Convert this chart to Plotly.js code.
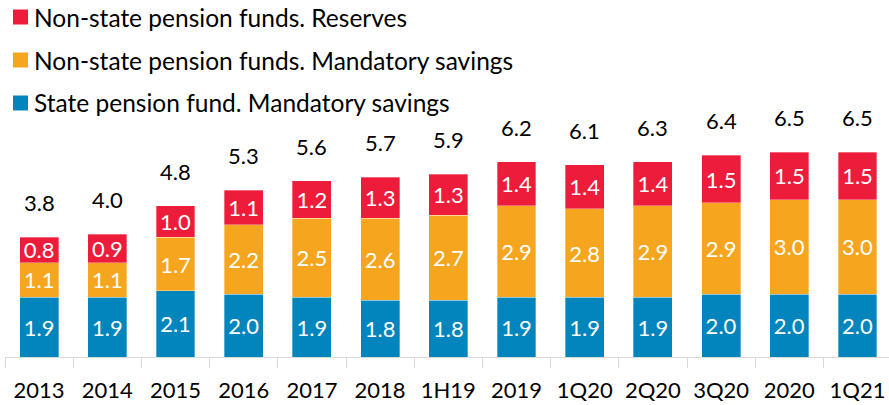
<!DOCTYPE html>
<html>
<head>
<meta charset="utf-8">
<script src="https://cdn.plot.ly/plotly-3.0.1.min.js"></script>
<style>
  html, body { margin: 0; padding: 0; background: #fff; }
  #chart { width: 889px; height: 405px; }
</style>
</head>
<body>
<div id="chart"></div>
<script>
// Pension savings by fund type (trillion roubles)
const periods = ['2013', '2014', '2015', '2016', '2017', '2018', '1H19', '2019', '1Q20', '2Q20', '3Q20', '2020', '1Q21'];
const stateMandatory = [1.9, 1.9, 2.1, 2.0, 1.9, 1.8, 1.8, 1.9, 1.9, 1.9, 2.0, 2.0, 2.0];
const npfMandatory   = [1.1, 1.1, 1.7, 2.2, 2.5, 2.6, 2.7, 2.9, 2.8, 2.9, 2.9, 3.0, 3.0];
const npfReserves    = [0.8, 0.9, 1.0, 1.1, 1.2, 1.3, 1.3, 1.4, 1.4, 1.4, 1.5, 1.5, 1.5];
const totals         = [3.8, 4.0, 4.8, 5.3, 5.6, 5.7, 5.9, 6.2, 6.1, 6.3, 6.4, 6.5, 6.5];

const seriesNames = [
  'State pension fund. Mandatory savings',
  'Non-state pension funds. Mandatory savings',
  'Non-state pension funds. Reserves'
];
const seriesValues = [stateMandatory, npfMandatory, npfReserves];
const seriesColors = ['#0284BC', '#F6A61E', '#ED1C3A'];

const FONT = 'Lato, "Open Sans", sans-serif';
const W = 889, H = 405;
const M = { l: 5, r: 0, t: 0, b: 48 };
const plotW = W - M.l - M.r, plotH = H - M.t - M.b;
const pxX = px => (px - M.l) / plotW;
const pxY = py => 1 - (py - M.t) / plotH;

const traces = seriesValues.map((vals, i) => ({
  type: 'bar',
  name: seriesNames[i],
  x: periods,
  y: vals,
  marker: { color: seriesColors[i], line: { color: 'rgba(255,255,255,0.55)', width: 0.6 } },
  text: vals.map(v => v.toFixed(1)),
  textposition: 'inside',
  insidetextanchor: 'middle',
  textangle: 0,
  constraintext: 'none',
  textfont: { family: FONT, size: 22, color: '#ffffff' },
  hoverinfo: 'x+y+name',
  showlegend: false
}));

// Totals above each stack (category index keeps year-like labels from being read as numbers)
const annotations = periods.map((p, i) => ({
  x: i,
  y: stateMandatory[i] + npfMandatory[i] + npfReserves[i],
  xref: 'x', yref: 'y',
  text: totals[i].toFixed(1),
  showarrow: false,
  yanchor: 'bottom',
  yshift: 19,
  font: { family: FONT, size: 22, color: '#000000' }
}));

// Legend drawn as swatches with labels, top series first
const shapes = [];
const legendRows = [17, 60, 103];
[2, 1, 0].forEach((s, row) => {
  const cy = legendRows[row];
  shapes.push({
    type: 'rect', xref: 'paper', yref: 'paper',
    x0: pxX(13), x1: pxX(28), y0: pxY(cy + 7.5), y1: pxY(cy - 7.5),
    fillcolor: seriesColors[s], line: { width: 0 }
  });
  annotations.push({
    xref: 'paper', yref: 'paper',
    x: pxX(32), y: pxY(cy),
    xanchor: 'left', yanchor: 'middle',
    text: seriesNames[s], showarrow: false,
    font: { family: FONT, size: 24.5, color: '#000000' }
  });
});

const layout = {
  width: W, height: H,
  margin: M,
  paper_bgcolor: '#ffffff',
  plot_bgcolor: '#ffffff',
  barmode: 'stack',
  bargap: 0.43,
  showlegend: false,
  font: { family: FONT, size: 22, color: '#000000' },
  xaxis: {
    type: 'category',
    range: [-0.5, -0.5 + plotW / 68.2],
    showline: true, linecolor: '#D9D9D9', linewidth: 1,
    ticks: 'outside', tickson: 'boundaries', ticklen: 10, tickcolor: '#D9D9D9',
    tickfont: { family: FONT, size: 22, color: '#000000' },
    ticklabelstandoff: 14,
    showgrid: false, zeroline: false, fixedrange: true
  },
  yaxis: {
    range: [0, plotH / 31.5],
    visible: false, showgrid: false, zeroline: false, fixedrange: true
  },
  shapes: shapes,
  annotations: annotations
};

Plotly.newPlot('chart', traces, layout, { displayModeBar: false, staticPlot: true });
</script>
</body>
</html>
